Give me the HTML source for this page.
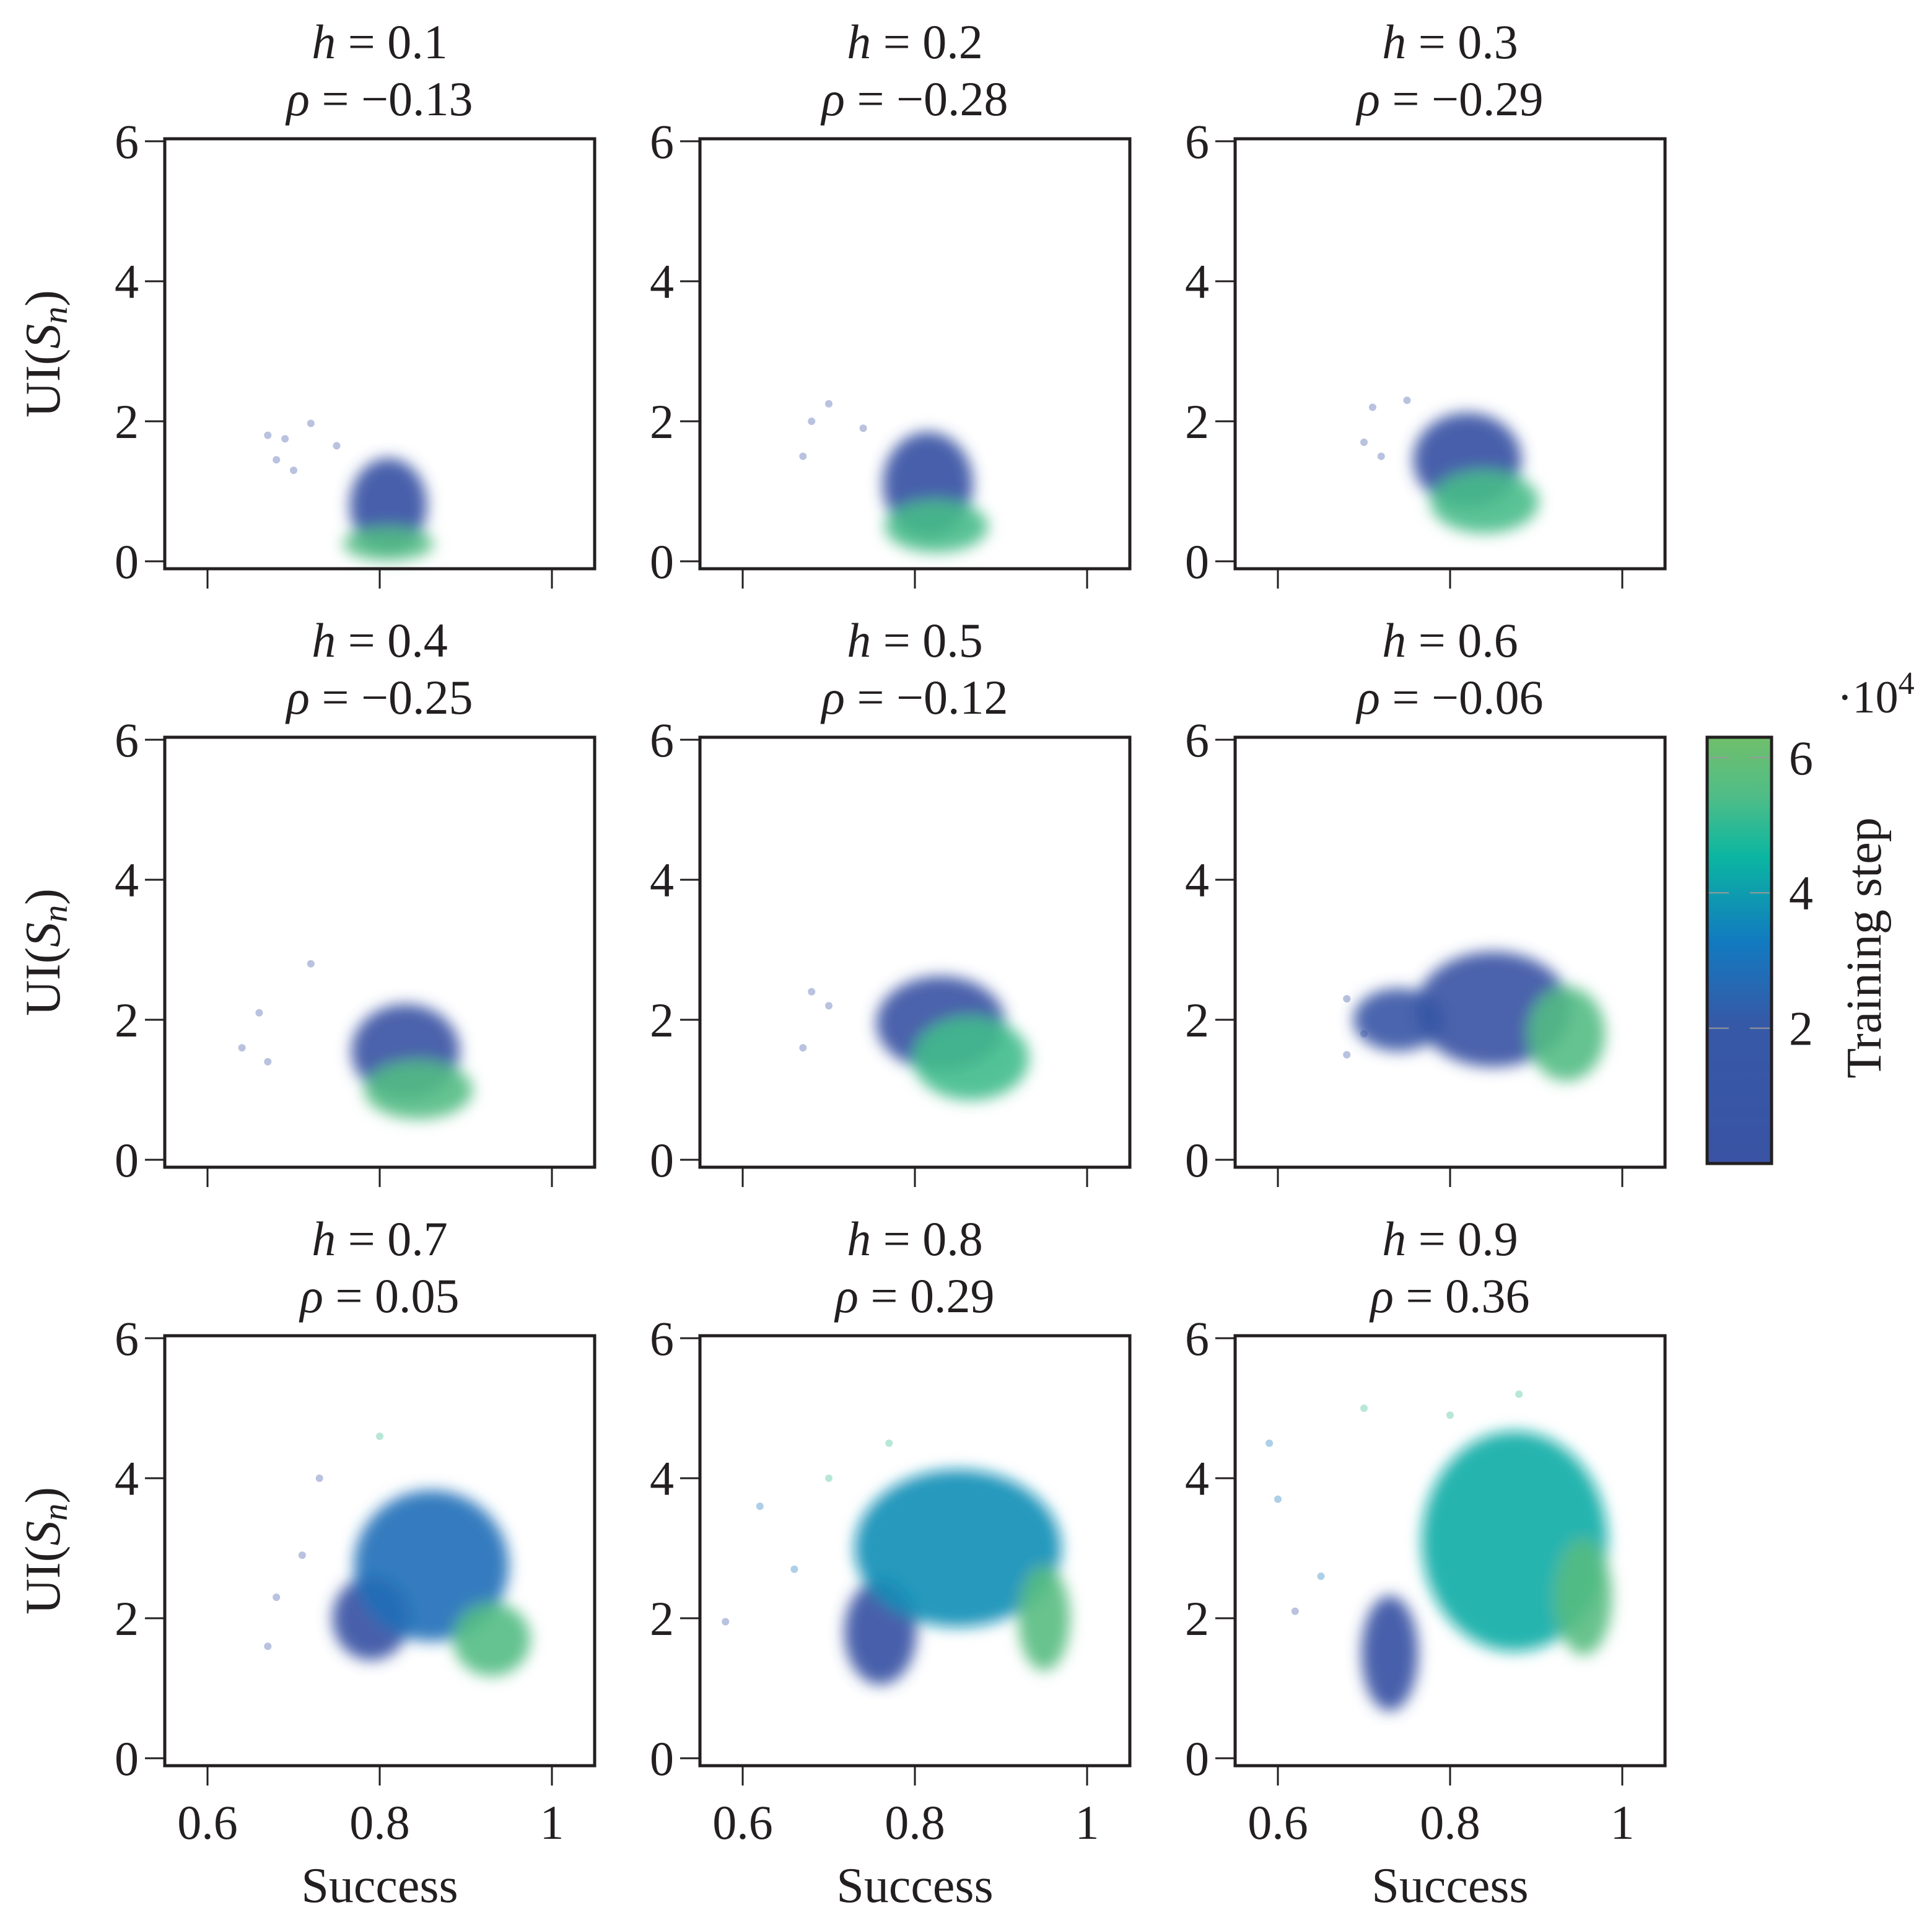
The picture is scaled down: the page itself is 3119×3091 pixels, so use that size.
<!DOCTYPE html>
<html><head><meta charset="utf-8"><style>
html,body{margin:0;padding:0;background:#fff}
svg text{font-family:"Liberation Serif",serif;fill:#231f20}
</style></head><body>
<svg id="chart" width="3119" height="3086" viewBox="0 0 3119 3086" xmlns="http://www.w3.org/2000/svg">
<defs>
<filter id="soft" x="-50%" y="-50%" width="200%" height="200%"><feGaussianBlur stdDeviation="12"/></filter>
<linearGradient id="cbgrad" x1="0" y1="1" x2="0" y2="0">
<stop offset="0" stop-color="#3a53a4"/><stop offset="0.33" stop-color="#3659a7"/><stop offset="0.52" stop-color="#127ac0"/><stop offset="0.72" stop-color="#0bb6a1"/><stop offset="0.86" stop-color="#4fbd87"/><stop offset="1" stop-color="#70bf6b"/>
</linearGradient>
</defs>
<g id="root"></g>
</svg>
<script>
const hValues=[0.1,0.2,0.3,0.4,0.5,0.6,0.7,0.8,0.9];
const rhoValues=["−0.13","−0.28","−0.29","−0.25","−0.12","−0.06","0.05","0.29","0.36"];
const xTicks=[0.6,0.8,1];
const yTicks=[0,2,4,6];
const cbTicks=[2,4,6];
// clusters: [success, UI, spreadSuccess, spreadUI, trainingStep(1e4)]
const clusters=[
 [[0.81,0.8,0.03,0.45,0.8],[0.81,0.25,0.035,0.16,5.5]],
 [[0.815,1.1,0.035,0.5,0.8],[0.825,0.5,0.04,0.25,5.3]],
 [[0.82,1.45,0.042,0.45,0.8],[0.84,0.85,0.042,0.3,5.3]],
 [[0.83,1.55,0.042,0.45,1.0],[0.845,1.0,0.042,0.28,5.5]],
 [[0.83,1.95,0.05,0.45,1.0],[0.865,1.45,0.045,0.4,5.2]],
 [[0.85,2.15,0.06,0.55,1.2],[0.935,1.8,0.03,0.45,5.5],[0.74,2.0,0.035,0.3,1.5]],
 [[0.79,2.0,0.03,0.4,0.8],[0.86,2.75,0.06,0.72,2.8],[0.93,1.7,0.03,0.35,5.5]],
 [[0.76,1.8,0.028,0.5,0.8],[0.85,3.0,0.08,0.75,3.6],[0.95,2.0,0.02,0.5,5.6]],
 [[0.73,1.5,0.022,0.55,0.8],[0.875,3.1,0.072,1.05,4.2],[0.955,2.3,0.022,0.55,5.6]]
];
// sparse outlier points: [success, UI, step]
const outliers=[
 [[0.67,1.8,1],[0.68,1.45,1],[0.69,1.75,1],[0.7,1.3,1],[0.72,1.97,1],[0.75,1.65,1]],
 [[0.67,1.5,1],[0.68,2.0,1],[0.7,2.25,1],[0.74,1.9,1]],
 [[0.7,1.7,1],[0.71,2.2,1],[0.72,1.5,1],[0.75,2.3,1]],
 [[0.64,1.6,1],[0.66,2.1,1],[0.67,1.4,1],[0.72,2.8,1]],
 [[0.67,1.6,1],[0.68,2.4,1],[0.7,2.2,1]],
 [[0.68,1.5,1],[0.68,2.3,1],[0.7,1.8,1]],
 [[0.67,1.6,1],[0.68,2.3,1],[0.71,2.9,1],[0.73,4.0,1],[0.8,4.6,5]],
 [[0.58,1.95,1],[0.62,3.6,3],[0.66,2.7,3],[0.7,4.0,5],[0.77,4.5,5]],
 [[0.59,4.5,3],[0.6,3.7,3],[0.62,2.1,1],[0.65,2.6,3],[0.7,5.0,5],[0.8,4.9,5],[0.88,5.2,5]]
];
const colLeft=[266,1130,1994], rowTop=[224,1190,2156], W=694, H=694;
const stops=[[0,[53,72,158]],[2,[54,89,167]],[3.2,[18,122,192]],[4.4,[11,182,161]],[5.4,[79,189,135]],[6.3,[112,191,107]]];
function cmap(v){for(let i=1;i<stops.length;i++){if(v<=stops[i][0]){const a=stops[i-1],b=stops[i];const t=(v-a[0])/(b[0]-a[0]);const c=a[1].map((x,k)=>Math.round(x+(b[1][k]-x)*t));return`rgb(${c})`;}}return'rgb(112,191,107)';}
const NS='http://www.w3.org/2000/svg';const root=document.getElementById('root');
function mk(t,a,p){const e=document.createElementNS(NS,t);for(const k in a)e.setAttribute(k,a[k]);(p||root).appendChild(e);return e;}
for(let i=0;i<9;i++){
 const r=Math.floor(i/3),c=i%3,L=colLeft[c],T=rowTop[r];
 const xs=v=>L+69+(v-0.6)/0.2*278;
 const ys=v=>T+682-v*113;
 const g=mk('g',{});
 
 
 const cg=mk('g',{filter:'url(#soft)'},g);
 clusters[i].forEach((cl,j)=>{
  const e=mk('ellipse',{cx:xs(cl[0]),cy:ys(cl[1]),rx:Math.max(cl[2]/0.2*278*1.5,20),ry:Math.max(cl[3]*113*1.5,18),fill:cmap(cl[4]),'fill-opacity':0.9},cg);
  
  
 });
 outliers[i].forEach(p=>{
  const d=mk('circle',{cx:xs(p[0]),cy:ys(p[1]),r:6,fill:cmap(p[2]),'fill-opacity':0.35},g);
  
  
 });
 const box=mk('rect',{x:L,y:T,width:W,height:H,fill:'none',stroke:'#231f20','stroke-width':5},g);
 
 
 yTicks.forEach(v=>{
  mk('line',{x1:L-32,x2:L,y1:ys(v),y2:ys(v),stroke:'#231f20','stroke-width':3},g);
  const t=mk('text',{x:L-42,y:ys(v)+27,'font-size':78,'text-anchor':'end'},g);t.textContent=v;
  
  
 });
 xTicks.forEach(v=>{
  mk('line',{x1:xs(v),x2:xs(v),y1:T+H,y2:T+H+32,stroke:'#231f20','stroke-width':3},g);
  if(r===2){const t=mk('text',{x:xs(v),y:T+H+118,'font-size':78,'text-anchor':'middle'},g);t.textContent=v;
  
  }
 });
 const cx=L+W/2;
 const t1=mk('text',{x:cx,y:T-130,'font-size':78,'text-anchor':'middle'},g);
 t1.innerHTML='<tspan font-style="italic">h</tspan> = '+hValues[i];
 
 
 const t2=mk('text',{x:cx,y:T-38,'font-size':78,'text-anchor':'middle'},g);
 t2.innerHTML='<tspan font-style="italic">ρ</tspan> = '+rhoValues[i];
 
 
 if(c===0){const yl=mk('text',{x:0,y:0,'font-size':80,'text-anchor':'middle',transform:`translate(96,${T+H/2}) rotate(-90)`},g);
  yl.innerHTML='UI(<tspan font-style="italic">S<tspan font-size="56" dy="12">n</tspan></tspan><tspan dy="-12">)</tspan>';
  
  }
 if(r===2){const xl=mk('text',{x:cx,y:3070,'font-size':80,'text-anchor':'middle'},g);xl.textContent='Success';
  
  }
}
// colorbar
const cb=mk('g',{});


const cbT=1190,cbB=1878,cbL=2756,cbR=2860,cbMax=6.3;
const cys=v=>cbB-v/cbMax*(cbB-cbT);
mk('rect',{x:cbL,y:cbT,width:cbR-cbL,height:cbB-cbT,fill:'url(#cbgrad)',stroke:'#231f20','stroke-width':5},cb);
cbTicks.forEach(v=>{
 mk('line',{x1:cbL+3,x2:cbL+35,y1:cys(v),y2:cys(v),stroke:'#999','stroke-width':2},cb);
 mk('line',{x1:cbR-35,x2:cbR-3,y1:cys(v),y2:cys(v),stroke:'#999','stroke-width':2},cb);
 const t=mk('text',{x:cbR+28,y:cys(v)+27,'font-size':78},cb);t.textContent=v;
 
 
});
const ex=mk('text',{x:2966,y:1150,'font-size':74},cb);ex.innerHTML='·10<tspan font-size="52" dy="-30">4</tspan>';


const cl=mk('text',{x:0,y:0,'font-size':80,'text-anchor':'middle',transform:'translate(3036,1530) rotate(-90)'},cb);cl.textContent='Training step';


</script>
</body></html>
